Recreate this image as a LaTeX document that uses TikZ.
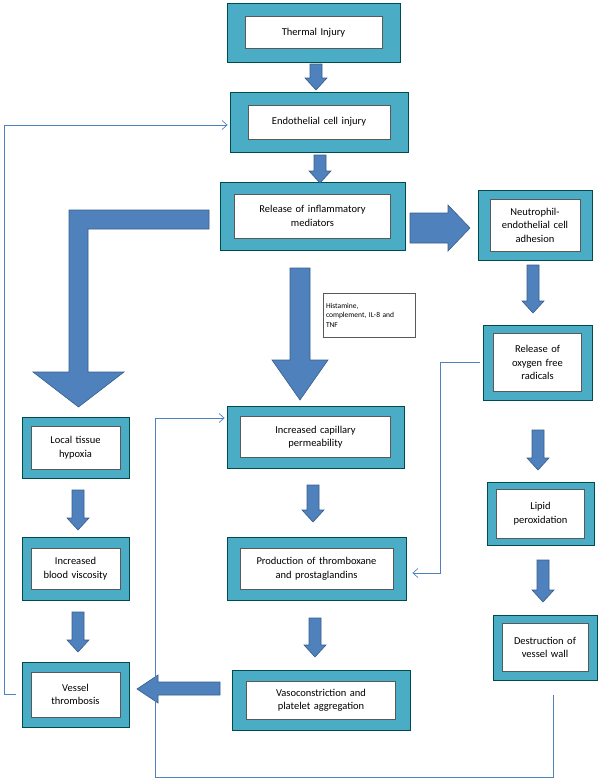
\documentclass[tikz,border=0pt]{standalone}
\usepackage{fontspec}
\setmainfont{Carlito}
\usetikzlibrary{arrows.meta}
\begin{document}
\begin{tikzpicture}[x=1pt,y=-1pt,
 outer/.style={draw=teal!60!black,fill={rgb,255:red,75;green,172;blue,198},line width=0.8pt,inner sep=0},
 inner/.style={draw=gray!70!black,fill=white,line width=0.5pt,align=center,font=\fontsize{10.5}{13.5}\selectfont,inner sep=0},
 barrow/.style={fill={rgb,255:red,79;green,129;blue,189},draw={rgb,255:red,56;green,93;blue,138},line width=0.6pt},
 thin/.style={draw={rgb,255:red,79;green,129;blue,189},line width=0.7pt},
 tip/.style={-{Straight Barb[length=5pt,width=9pt]}}]
\useasboundingbox (0,0) rectangle (603,780);
\newcommand{\bx}[8]{%
 \node[outer,minimum width=#4pt,minimum height=#5pt] (#1) at (#2,#3) {};
 \node[inner,minimum width=#6pt,minimum height=#7pt,text width=#6pt-2pt] (#1-in) at (#2,#3) {#8};}
\bx{thermal}{313.5}{32.5}{173}{59}{137}{32}{Thermal Injury}
\bx{endo}{319}{122}{178}{60}{142}{34}{Endothelial cell injury}
\bx{rel}{312.5}{216}{185}{68}{156}{44}{Release of inflammatory\\mediators}
\bx{neut}{535}{225}{114}{70}{90}{52}{Neutrophil-\\endothelial cell\\adhesion}
\bx{oxy}{537.5}{362.5}{109}{75}{88}{58}{Release of\\oxygen free\\radicals}
\bx{lip}{540.5}{513.5}{107}{63}{88}{49}{Lipid\\peroxidation}
\bx{des}{545}{647.5}{104}{65}{86}{48}{Destruction of\\vessel wall}
\bx{cap}{315.5}{437}{177}{62}{150}{41}{Increased capillary\\permeability}
\bx{thx}{316.5}{568.5}{179}{63}{153}{41}{Production of thromboxane\\and prostaglandins}
\bx{vaso}{321}{700}{178}{60}{149}{38}{Vasoconstriction and\\platelet aggregation}
\bx{hyp}{75.5}{447.5}{107}{61}{89}{43}{Local tissue\\hypoxia}
\bx{visc}{75.5}{568.5}{107}{63}{89}{41}{Increased\\blood viscosity}
\bx{thr}{75.5}{694.5}{107}{65}{89}{45}{Vessel\\thrombosis}
\node[draw=gray!70!black,line width=0.5pt,align=left,text width=86pt,inner sep=3pt,minimum height=44pt,font=\fontsize{7.5}{9.5}\selectfont] (hist) at (369,315) {Histamine,\\complement, IL-8 and\\TNF};
% small block arrows
\newcommand{\sarr}[3]{\path[barrow] (#1-6,#2) -- (#1+6,#2) -- (#1+6,#3-12) -- (#1+11,#3-12) -- (#1,#3) -- (#1-11,#3-12) -- (#1-6,#3-12) -- cycle;}
\sarr{316}{64}{90}
\sarr{320}{155}{183}
\sarr{533}{265}{313}
\sarr{538}{430}{470}
\sarr{543}{560}{602}
\sarr{313}{485}{522}
\sarr{315}{618}{657}
\sarr{78}{490}{530}
\sarr{78}{612}{652}
% big L arrow
\path[barrow] (209,210) -- (209,229) -- (88,229) -- (88,372) -- (124,372) -- (78.5,407) -- (33,372) -- (69,372) -- (69,210) -- cycle;
% big down arrow
\path[barrow] (290,268) -- (310,268) -- (310,360) -- (328,360) -- (300,400) -- (272,360) -- (290,360) -- cycle;
% right arrow
\path[barrow] (410,213) -- (448,213) -- (448,205) -- (470,228) -- (448,251) -- (448,243) -- (410,243) -- cycle;
% left arrow
\path[barrow] (220,682) -- (158,682) -- (158,675) -- (137,689) -- (158,703) -- (158,695) -- (220,695) -- cycle;
% thin feedback lines
\coordinate (dstart) at (553,695);
\draw[thin,tip] ([xshift=-6pt]thr.west) -- (4,694.5) -- (4,125) -- ([xshift=-2pt]endo.west|-0,125);
\draw[thin,tip] ([xshift=-3pt]oxy.west) -- (440,362.5) -- (440,573) -- ([xshift=6pt]thx.east|-0,573);
\draw[thin,tip] (dstart) -- (553,777) -- (155,777) -- (155,418) -- ([xshift=-2pt]cap.west|-0,418);
\end{tikzpicture}
\end{document}
